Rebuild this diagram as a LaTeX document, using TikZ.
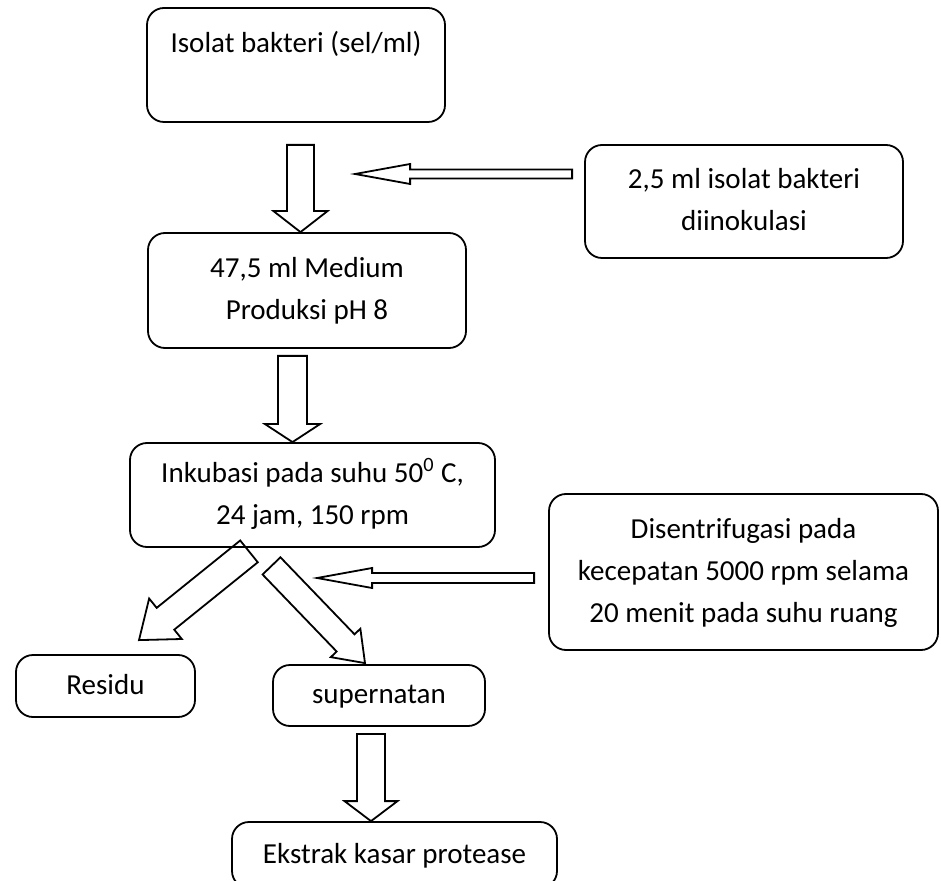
\documentclass[tikz,border=0pt]{standalone}
\usepackage{fontspec}
\setmainfont{Carlito}
\usetikzlibrary{calc, positioning}
\tikzset{
    box/.style={rectangle, draw, rounded corners=8.5pt, line width=0.9pt, align=center, inner sep=0pt},
    blockline/.style={draw, line width=0.9pt, line join=miter}
}
% block arrow: tail, tip, half shaft, half head, head length
\newcommand{\blockarrow}[5]{%
    \path ($(#2)!#5!(#1)$) coordinate (hb);
    \draw[blockline] ($(#1)!#3!90:(#2)$) -- ($(hb)!#3!-90:(#1)$) -- ($(hb)!#4!-90:(#1)$) -- (#2)
        -- ($(hb)!#4!90:(#1)$) -- ($(hb)!#3!90:(#1)$) -- ($(#1)!#3!-90:(#2)$) -- cycle;
}

\begin{document}
\begin{tikzpicture}[x=0.5pt, y=-0.5pt, font=\fontsize{14.5}{21}\selectfont]
    \useasboundingbox (0,0) rectangle (941,881);

    \node (isolat) [box, minimum width=149pt, minimum height=57pt] at (296,65) {\strut Isolat bakteri (sel/ml)\\\strut};
    \node (inokulum) [box, minimum width=159pt, minimum height=56.5pt] at (744,201.5) {\strut 2,5 ml isolat bakteri\\\strut diinokulasi};
    \node (medium) [box, minimum width=159pt, minimum height=57.5pt] at (307,290.5) {\strut 47,5 ml Medium\\\strut Produksi pH 8};
    \node (inkubasi) [box, minimum width=182.5pt, minimum height=52pt] at (312.5,495) {\strut Inkubasi pada suhu 50\textsuperscript{0} C,\\\strut 24 jam, 150 rpm};
    \node (sentrifus) [box, minimum width=194.5pt, minimum height=78pt] at (743.5,572) {\strut Disentrifugasi pada\\\strut kecepatan 5000 rpm selama\\\strut 20 menit pada suhu ruang};
    \node (residu) [box, minimum width=89.5pt, minimum height=31pt] at (105.5,686) {\strut Residu};
    \node (supernatan) [box, minimum width=106pt, minimum height=30.5pt] at (379,695.5) {\strut supernatan};
    \node (ekstrak) [box, minimum width=162.5pt, minimum height=33pt] at (394.5,855) {\strut Ekstrak kasar protease};

    \coordinate (a1s) at ($(isolat.south)+(4.5,22)$);
    \coordinate (a1e) at ($(medium.north)+(-6.5,0)$);
    \coordinate (a2s) at ($(inokulum.west)+(-12,-27.5)$);
    \coordinate (a2e) at ($(a2s)+(-217,0)$);
    \coordinate (a3s) at ($(medium.south)+(-14.5,7)$);
    \coordinate (a3e) at ($(inkubasi.north)+(-20,0)$);
    \coordinate (a4s) at ($(inkubasi.south)+(-63.5,3.5)$);
    \coordinate (a4e) at ($(residu.north)+(33.5,-14)$);
    \coordinate (a5s) at ($(inkubasi.south)+(-41,18)$);
    \coordinate (a5e) at ($(supernatan.north)+(-14,-1)$);
    \coordinate (a6s) at ($(sentrifus.west)+(-14,6)$);
    \coordinate (a6e) at ($(a6s)+(-217,0)$);
    \coordinate (a7s) at ($(supernatan.south)+(-8,7)$);
    \coordinate (a7e) at ($(ekstrak.north)+(-23.5,0)$);

    \blockarrow{a1s}{a1e}{6.75pt}{13.5pt}{10.5pt}
    \blockarrow{a2s}{a2e}{2.25pt}{5pt}{27.5pt}
    \blockarrow{a3s}{a3e}{7.25pt}{13.75pt}{9pt}
    \blockarrow{a4s}{a4e}{7pt}{13pt}{17pt}
    \blockarrow{a5s}{a5e}{6.2pt}{10.25pt}{14pt}
    \blockarrow{a6s}{a6e}{2.5pt}{5pt}{27.5pt}
    \blockarrow{a7s}{a7e}{7pt}{13.25pt}{10pt}
\end{tikzpicture}
\end{document}
